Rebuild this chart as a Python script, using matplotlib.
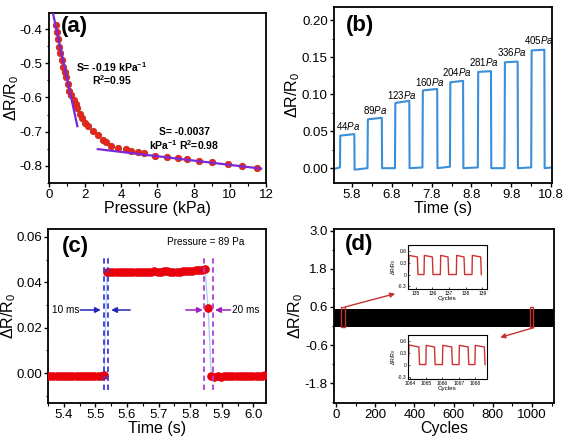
import numpy as np
import matplotlib
matplotlib.use("Agg")
import matplotlib.pyplot as plt
from matplotlib.patches import Rectangle

plt.rcParams['font.family'] = ['Liberation Sans', 'DejaVu Sans']
plt.rcParams['mathtext.fontset'] = 'custom'
plt.rcParams['mathtext.rm'] = 'Liberation Sans'
plt.rcParams['mathtext.it'] = 'Liberation Sans:italic'
plt.rcParams['mathtext.bf'] = 'Liberation Sans:bold'
plt.rcParams['axes.linewidth'] = 1.3
plt.rcParams['xtick.direction'] = 'out'
plt.rcParams['ytick.direction'] = 'out'

# ---------------- data ----------------
# (a) pressure response
press_a = [0.40, 0.42, 0.52, 0.55, 0.63, 0.70, 0.77, 0.87, 0.96, 1.05, 1.10, 1.23, 1.36,
           1.47, 1.55, 1.70, 1.84, 1.97, 2.15, 2.43, 2.70, 2.98, 3.17, 3.44, 3.81, 4.24,
           4.55, 4.92, 5.23, 5.84, 6.52, 7.13, 7.64, 8.32, 8.99, 9.90, 10.68, 11.49]
resp_a = [-0.388, -0.408, -0.430, -0.452, -0.470, -0.490, -0.510, -0.525, -0.540, -0.560,
          -0.580, -0.593, -0.608, -0.620, -0.632, -0.647, -0.661, -0.676, -0.684, -0.698,
          -0.710, -0.723, -0.730, -0.741, -0.749, -0.752, -0.756, -0.759, -0.762, -0.772,
          -0.774, -0.778, -0.781, -0.785, -0.790, -0.795, -0.800, -0.806]
fit1_x = [0.22, 1.57]
fit1_y = [-0.354, -0.684]
fit2_x = [2.70, 11.73]
fit2_y = [-0.751, -0.808]

# (b) step response to pressures
time_b = [5.35, 5.50, 5.507, 5.86, 5.867, 6.19, 6.20, 6.55, 6.557, 6.88, 6.89, 7.24, 7.247,
          7.57, 7.58, 7.94, 7.947, 8.26, 8.27, 8.59, 8.597, 8.96, 8.97, 9.29, 9.297, 9.63,
          9.64, 9.96, 9.967, 10.30, 10.31, 10.63, 10.637, 10.82]
resp_b = [-0.001, 0.001, 0.044, 0.046, -0.002, 0.000, 0.066, 0.068, 0.000, 0.000, 0.088,
          0.091, 0.000, 0.001, 0.105, 0.107, 0.000, 0.002, 0.116, 0.118, 0.000, 0.001,
          0.130, 0.131, 0.000, 0.000, 0.143, 0.144, 0.000, 0.001, 0.159, 0.160, 0.000, 0.001]
label_b = ['44', '89', '123', '160', '204', '281', '336', '405']
label_b_x = [5.70, 6.38, 7.06, 7.76, 8.43, 9.12, 9.82, 10.49]
label_b_y = [0.057, 0.078, 0.099, 0.116, 0.130, 0.143, 0.157, 0.173]

# (c) response time, 89 Pa
t0_c = 5.357
dt_c = 0.01
resp_c = [-0.0012, -0.0013, -0.0012, -0.0011, -0.0012, -0.0013, -0.0012, -0.0011, -0.0012,
          -0.0012, -0.0011, -0.0012, -0.0013, -0.0012, -0.0011, -0.0012, -0.0011, -0.0010,
          0.0444, 0.0445, 0.0445, 0.0446, 0.0445, 0.0446, 0.0446, 0.0447, 0.0446, 0.0446,
          0.0447, 0.0447, 0.0446, 0.0447, 0.0447, 0.0448, 0.0447, 0.0447, 0.0448, 0.0448,
          0.0447, 0.0446, 0.0446, 0.0447, 0.0448, 0.0449, 0.0450, 0.0451, 0.0453, 0.0455,
          0.0456, 0.0458,
          0.0285,
          -0.0015, -0.0016, -0.0015, -0.0016, -0.0015, -0.0014, -0.0015, -0.0014, -0.0013,
          -0.0014, -0.0013, -0.0012, -0.0012, -0.0011, -0.0012, -0.0011, -0.0011, -0.0010]
time_c = t0_c + dt_c * np.arange(len(resp_c))
rise_marks = [5.527, 5.539]
fall_marks = [5.845, 5.873]

# (d) cycling stability (envelope of dense cycling signal)
cycles_env = [-10, 1112]
env_low = [-0.02, -0.02]
env_high = [0.53, 0.53]
zoom_windows = [(24, 46), (990, 1007)]
ins1_x = [134.56, 134.60, 135.10, 135.14, 135.50, 135.52, 136.00, 136.04, 136.48, 136.50,
          136.94, 136.98, 137.44, 137.46, 137.90, 137.94, 138.38, 138.40, 138.90, 138.94]
ins1_y = [0, 0.48, 0.44, 0, 0, 0.48, 0.44, 0, 0, 0.48, 0.44, 0, 0, 0.48, 0.44, 0, 0, 0.48,
          0.44, 0]
ins2_x = [1063.90, 1063.94, 1064.55, 1064.59, 1064.98, 1065.00, 1065.51, 1065.55, 1066.00,
          1066.02, 1066.57, 1066.61, 1067.02, 1067.04, 1067.58, 1067.62, 1068.00, 1068.02,
          1068.58, 1068.62]
ins2_y = [0, 0.49, 0.44, 0, 0, 0.48, 0.44, 0, 0, 0.48, 0.44, 0, 0, 0.48, 0.44, 0, 0, 0.48,
          0.44, 0]

# ---------------- figure ----------------
fig = plt.figure(figsize=(5.69, 4.42), dpi=100)
ylab = r'$\Delta$R/R$_0$'
TICK = 9.5
LAB = 11.5


def style(ax):
    ax.tick_params(which='major', length=3, width=1, labelsize=TICK, pad=1.5)
    ax.tick_params(which='minor', length=1.8, width=0.8)


# (a)
ax = fig.add_axes([0.0861, 0.586, 0.3814, 0.3846])
ax.plot(press_a, resp_a, 'o', ms=4.6, mfc='#e8241c', mec='#c0301a', mew=0.6, zorder=3)
ax.plot(fit1_x, fit1_y, color='#7a28d8', lw=1.6, zorder=4)
ax.plot(fit2_x, fit2_y, color='#7a28d8', lw=1.6, zorder=4)
ax.set_xlim(0, 12)
ax.set_ylim(-0.85, -0.353)
ax.set_xticks(np.arange(0, 13, 2))
ax.set_xticks(np.arange(1, 12, 2), minor=True)
ax.set_yticks([-0.8, -0.7, -0.6, -0.5, -0.4])
ax.set_yticklabels(['-0.8', '-0.7', '-0.6', '-0.5', '-0.4'])
ax.set_yticks([-0.85, -0.75, -0.65, -0.55, -0.45], minor=True)
style(ax)
ax.set_xlabel('Pressure (kPa)', fontsize=LAB, labelpad=0)
ax.set_ylabel(ylab, fontsize=LAB)
ax.yaxis.set_label_coords(-0.128, 0.5)
ax.text(1.42, -0.393, '(a)', fontsize=16, fontweight='bold', ha='center', va='center')
ax.text(3.46, -0.51, r'S= -0.19 kPa$^{\mathbf{-1}}$', fontsize=7.5, fontweight='bold',
        ha='center', va='center')
ax.text(3.46, -0.549, r'R$^{\mathbf{2}}$=0.95', fontsize=7.5, fontweight='bold',
        ha='center', va='center')
ax.text(7.49, -0.70, 'S= -0.0037', fontsize=7.5, fontweight='bold', ha='center', va='center')
ax.text(7.49, -0.739, r'kPa$^{\mathbf{-1}}$ R$^{\mathbf{2}}$=0.98', fontsize=7.5,
        fontweight='bold', ha='center', va='center')

# (b)
ax = fig.add_axes([0.587, 0.586, 0.383, 0.398])
ax.plot(time_b, resp_b, color='#3b8fd9', lw=1.5)
ax.set_xlim(5.35, 10.82)
ax.set_ylim(-0.02, 0.2176)
ax.set_xticks([5.8, 6.8, 7.8, 8.8, 9.8, 10.8])
ax.set_xticks([6.3, 7.3, 8.3, 9.3, 10.3], minor=True)
ax.set_yticks([0.0, 0.05, 0.10, 0.15, 0.20])
ax.set_yticklabels(['0.00', '0.05', '0.10', '0.15', '0.20'])
ax.set_yticks([-0.025 + 0.05 * k for k in range(1, 5)], minor=True)
style(ax)
ax.set_xlabel('Time (s)', fontsize=LAB, labelpad=0)
ax.set_ylabel(ylab, fontsize=LAB, labelpad=0)
ax.text(6.0, 0.193, '(b)', fontsize=16, fontweight='bold', ha='center', va='center')
for lab, lx, ly in zip(label_b, label_b_x, label_b_y):
    ax.text(lx, ly, lab + r'$\it{Pa}$', fontsize=7, ha='center', va='center')

# (c)
ax = fig.add_axes([0.0844, 0.0882, 0.383, 0.3937])
ax.plot(time_c, resp_c, color='#a8cbee', lw=0.9, zorder=2)
ax.plot(time_c, resp_c, 'o', ms=5.2, color='#e8000b', zorder=3)
for xm in rise_marks:
    ax.plot([xm, xm], [-0.0076, 0.052], ls=(0, (3, 2)), color='#3c3cd8', lw=1.3, zorder=4)
for xm in fall_marks:
    ax.plot([xm, xm], [-0.0076, 0.052], ls=(0, (3, 2)), color='#b040d8', lw=1.3, zorder=4)
arrow_blue = dict(arrowstyle='-|>', color='#2424b8', lw=1.1, mutation_scale=8,
                  shrinkA=0, shrinkB=0)
arrow_purple = dict(arrowstyle='-|>', color='#9a20c0', lw=1.1, mutation_scale=8,
                    shrinkA=0, shrinkB=0)
yy = 0.0278
ax.annotate('', xy=(5.517, yy), xytext=(5.452, yy), arrowprops=arrow_blue)
ax.annotate('', xy=(5.550, yy), xytext=(5.610, yy), arrowprops=arrow_blue)
ax.annotate('', xy=(5.840, yy), xytext=(5.786, yy), arrowprops=arrow_purple)
ax.annotate('', xy=(5.879, yy), xytext=(5.928, yy), arrowprops=arrow_purple)
ax.text(5.364, yy, '10 ms', fontsize=7.2, ha='left', va='center')
ax.text(5.931, yy, '20 ms', fontsize=7.2, ha='left', va='center')
ax.text(5.85, 0.0577, 'Pressure = 89 Pa', fontsize=7.2, ha='center', va='center')
ax.text(5.437, 0.056, '(c)', fontsize=16, fontweight='bold', ha='center', va='center')
ax.set_xlim(5.356, 6.04)
ax.set_ylim(-0.0132, 0.0635)
ax.set_xticks([5.4, 5.5, 5.6, 5.7, 5.8, 5.9, 6.0])
ax.set_xticks([5.35 + 0.1 * k for k in range(7)], minor=True)
ax.set_yticks([0.0, 0.02, 0.04, 0.06])
ax.set_yticklabels(['0.00', '0.02', '0.04', '0.06'])
ax.set_yticks([-0.01, 0.01, 0.03, 0.05], minor=True)
style(ax)
ax.set_xlabel('Time (s)', fontsize=LAB, labelpad=0)
ax.set_ylabel(ylab, fontsize=LAB)
ax.yaxis.set_label_coords(-0.138, 0.5)

# (d)
ax = fig.add_axes([0.587, 0.0882, 0.3866, 0.3937])
ax.fill_between(cycles_env, env_low, env_high, color='black', lw=0)
for (a, b) in zoom_windows:
    ax.add_patch(Rectangle((a, -0.03), b - a, 0.63, fill=False, ec='#c83030', lw=1.0,
                           zorder=4))
arrow_red = dict(arrowstyle='-|>', color='#c83030', lw=1.0, mutation_scale=7,
                 shrinkA=0, shrinkB=0)
ax.annotate('', xy=(302, 1.02), xytext=(46, 0.6), arrowprops=arrow_red)
ax.annotate('', xy=(838, -0.36), xytext=(1010, -0.05), arrowprops=arrow_red)
ax.set_xlim(-10, 1112)
ax.set_ylim(-2.43, 3.06)
ax.set_xticks([0, 200, 400, 600, 800, 1000])
ax.set_xticks([100, 300, 500, 700, 900, 1100], minor=True)
ax.set_yticks([-1.8, -0.6, 0.6, 1.8, 3.0])
ax.set_yticklabels(['-1.8', '-0.6', '0.6', '1.8', '3.0'])
ax.set_yticks([-2.4, -1.2, 0.0, 1.2, 2.4], minor=True)
style(ax)
ax.set_xlabel('Cycles', fontsize=LAB, labelpad=0)
ax.set_ylabel(ylab, fontsize=LAB, labelpad=0)
ax.text(117, 2.56, '(d)', fontsize=16, fontweight='bold', ha='center', va='center')


def inset(rect, xs, ys, xlim, xt):
    ia = fig.add_axes(rect)
    ia.plot(xs, ys, color='#d03030', lw=1.0)
    ia.set_xlim(*xlim)
    ia.set_ylim(-0.37, 0.74)
    ia.set_xticks(xt)
    ia.set_xticklabels([str(v) for v in xt])
    ia.set_yticks([-0.3, 0, 0.3, 0.6])
    ia.set_yticklabels(['-0.3', '0', '0.3', '0.6'])
    ia.tick_params(labelsize=3.6, length=1.2, width=0.5, pad=1, direction='in')
    for s in ia.spines.values():
        s.set_linewidth(0.8)
    ia.set_xlabel('Cycles', fontsize=4.5, labelpad=0)
    ia.set_ylabel(ylab, fontsize=3.8, labelpad=0)
    return ia


inset([0.7165, 0.3455, 0.1388, 0.1002], ins1_x, ins1_y, (134.52, 139.26),
      [135, 136, 137, 138, 139])
inset([0.7165, 0.1418, 0.1399, 0.1003], ins2_x, ins2_y, (1063.86, 1068.76),
      [1064, 1065, 1066, 1067, 1068])

fig.savefig('out.png', dpi=100)
